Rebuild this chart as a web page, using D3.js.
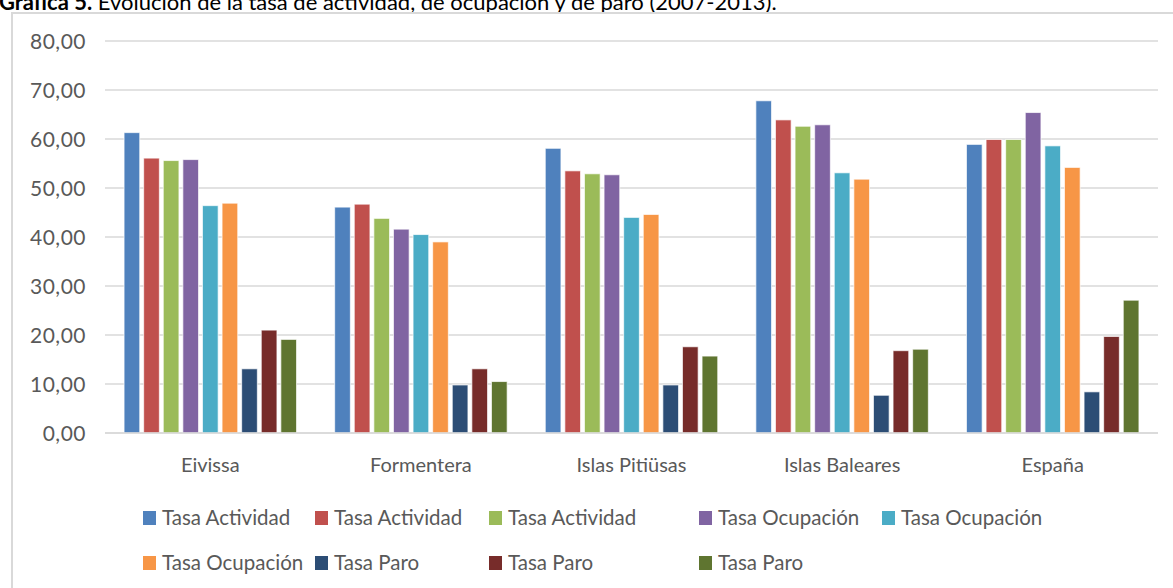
<!DOCTYPE html>
<html>
<head>
<meta charset="utf-8">
<script src="https://cdn.jsdelivr.net/npm/d3@7"></script>
<style>
  body { margin: 0; background: #fff; }
  svg { display: block; font-family: Lato, "Open Sans", sans-serif; }
</style>
</head>
<body>
<svg width="1173" height="588"></svg>
<script>
var categories = ["Eivissa", "Formentera", "Islas Pitiüsas", "Islas Baleares", "España"];

var seriesNames = ["Tasa Actividad", "Tasa Actividad", "Tasa Actividad",
                   "Tasa Ocupación", "Tasa Ocupación", "Tasa Ocupación",
                   "Tasa Paro", "Tasa Paro", "Tasa Paro"];

// one array per series, values per category
var actividad1 = [61.3, 46.1, 58.1, 67.8, 58.9];
var actividad2 = [56.1, 46.7, 53.5, 63.9, 59.9];
var actividad3 = [55.6, 43.8, 52.9, 62.6, 59.9];
var ocupacion1 = [55.8, 41.6, 52.7, 62.9, 65.4];
var ocupacion2 = [46.4, 40.5, 44.0, 53.1, 58.6];
var ocupacion3 = [46.9, 39.0, 44.6, 51.8, 54.2];
var paro1 = [13.1, 9.8, 9.8, 7.7, 8.4];
var paro2 = [21.0, 13.1, 17.6, 16.8, 19.7];
var paro3 = [19.1, 10.5, 15.7, 17.1, 27.1];

var yTicks = [0, 10, 20, 30, 40, 50, 60, 70, 80];

var colors = ["#4F81BD", "#C0504D", "#9BBB59", "#8064A2", "#4BACC6",
              "#F79646", "#2C4D75", "#772C2A", "#5F7530"];

var series = [actividad1, actividad2, actividad3, ocupacion1, ocupacion2,
              ocupacion3, paro1, paro2, paro3];

var svg = d3.select("svg"),
    textColor = "#595959",
    gridColor = "#d9d9d9";

// title (partly cut at the top, as in the source)
var title = svg.append("text")
    .attr("x", -1)
    .attr("y", 10)
    .attr("fill", "#000")
    .style("font-size", "22px");
title.append("tspan").style("font-weight", "bold").text("Gráfica 5.");
title.append("tspan").text(" Evolución de la tasa de actividad, de ocupación y de paro (2007-2013).");

// chart frame
svg.append("rect")
    .attr("x", 12)
    .attr("y", 13)
    .attr("width", 1200)
    .attr("height", 600)
    .attr("fill", "#fff")
    .attr("stroke", gridColor)
    .attr("stroke-width", 2);

var x0 = d3.scaleBand()
    .domain(categories)
    .range([105, 1158])
    .paddingInner(0.1624)
    .paddingOuter(0.0812);

var x1 = d3.scaleBand()
    .domain(d3.range(series.length))
    .range([0, x0.bandwidth()])
    .paddingInner(0.2)
    .paddingOuter(0.1);

var y = d3.scaleLinear()
    .domain([0, 80])
    .range([433, 41]);

// gridlines
svg.append("g")
    .selectAll("line")
    .data(yTicks)
    .enter().append("line")
    .attr("x1", 105)
    .attr("x2", 1158)
    .attr("y1", function(d) { return y(d); })
    .attr("y2", function(d) { return y(d); })
    .attr("stroke", gridColor)
    .attr("stroke-width", 1.5);

// y labels
var fmt = function(d) { return d3.format(".2f")(d).replace(".", ","); };
svg.append("g")
    .selectAll("text")
    .data(yTicks)
    .enter().append("text")
    .attr("x", 86)
    .attr("y", function(d) { return y(d); })
    .attr("dy", "0.36em")
    .attr("text-anchor", "end")
    .attr("fill", textColor)
    .style("font-size", "21px")
    .style("letter-spacing", "0.5px")
    .text(fmt);

// bars
var groups = svg.append("g")
    .selectAll("g")
    .data(series)
    .enter().append("g")
    .attr("fill", function(d, i) { return colors[i]; });

groups.each(function(vals, si) {
    d3.select(this).selectAll("rect")
        .data(vals)
        .enter().append("rect")
        .attr("x", function(d, ci) { return x0(categories[ci]) + x1(si); })
        .attr("y", function(d) { return y(d); })
        .attr("width", x1.bandwidth())
        .attr("height", function(d) { return y(0) - y(d); })
        .attr("stroke", "#fff")
        .attr("stroke-opacity", 0.7)
        .attr("stroke-width", 1);
});

// baseline
svg.append("line")
    .attr("x1", 105).attr("x2", 1158)
    .attr("y1", y(0)).attr("y2", y(0))
    .attr("stroke", gridColor)
    .attr("stroke-width", 1.5);

// category labels
svg.append("g")
    .selectAll("text")
    .data(categories)
    .enter().append("text")
    .attr("x", function(d) { return x0(d) + x0.bandwidth() / 2; })
    .attr("y", 472)
    .attr("text-anchor", "middle")
    .attr("fill", textColor)
    .style("font-size", "20px")
    .text(function(d) { return d; });

// legend, 5 columns x 2 rows
var legendCols = [143, 315, 489, 699, 882],
    legendRows = [525, 570];

var legend = svg.append("g")
    .selectAll("g")
    .data(seriesNames)
    .enter().append("g")
    .attr("transform", function(d, i) {
        return "translate(" + legendCols[i % 5] + "," + legendRows[Math.floor(i / 5)] + ")";
    });

legend.append("rect")
    .attr("x", 0)
    .attr("y", -14)
    .attr("width", 13)
    .attr("height", 14)
    .attr("fill", function(d, i) { return colors[i]; });

legend.append("text")
    .attr("x", 19)
    .attr("y", 0)
    .attr("fill", textColor)
    .style("font-size", "20.5px")
    .text(function(d) { return d; });
</script>
</body>
</html>
